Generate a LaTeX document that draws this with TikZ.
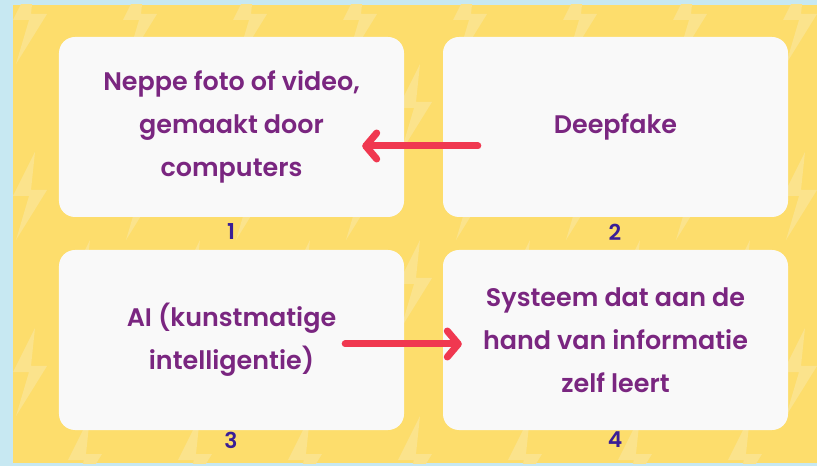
\documentclass[tikz,border=0pt]{standalone}
\usepackage{fontspec}
\setmainfont{Poppins}[BoldFont={Poppins SemiBold}]
\usetikzlibrary{arrows.meta}
\definecolor{bgblue}{RGB}{199,232,242}
\definecolor{boltyellow}{RGB}{253,221,108}
\definecolor{boltpale}{RGB}{251,227,140}
\definecolor{cardwhite}{RGB}{249,249,249}
\definecolor{textpurple}{RGB}{122,38,128}
\definecolor{numblue}{RGB}{58,30,150}
\definecolor{arrowred}{RGB}{240,56,80}
\tikzset{
  card/.style={fill=cardwhite, rounded corners=16bp, minimum width=345bp, minimum height=180bp,
    inner sep=0pt, align=center, text=textpurple, font=\fontsize{25.5}{43}\selectfont\bfseries},
  cardnum/.style={text=numblue, font=\fontsize{22}{22}\selectfont\bfseries},
  redarrow/.style={arrowred, line width=7bp, line cap=round,
    -{Straight Barb[length=11bp,width=26bp,round]}},
}

\begin{document}
\begin{tikzpicture}[x=1bp,y=-1bp]
\useasboundingbox (0,0) rectangle (817,466);
% background
\fill[bgblue] (0,0) rectangle (817,466);
\fill[boltyellow] (13,5) rectangle (817,463);
% lightning pattern
\begin{scope}
\clip (13,5) rectangle (817,463);
\foreach \r in {0,...,5}
  \foreach \c in {-1,...,8}
    \fill[boltpale, shift={({30+110*\c+55*mod(\r,2)},{20+88*\r})}]
      (5,-44) -- (-17,0) -- (-1,0) -- (-14,44) -- (17,-6) -- (1,-6) -- cycle;
\end{scope}
% cards
\node[card] (fake) at (231.5,127) {Neppe foto of video,\\gemaakt door\\computers};
\node[card] (deepfake) at (615.5,127) {Deepfake};
\node[card] (ai) at (231.5,340) {AI (kunstmatige\\intelligentie)};
\node[card] (system) at (615.5,340) {Systeem dat aan de\\hand van informatie\\zelf leert};
% numbers
\node[cardnum] (n1) at (231,232) {1};
\node[cardnum] (n2) at (615,232) {2};
\node[cardnum] (n3) at (231,440) {3};
\node[cardnum] (n4) at (615,440) {4};
% arrows
\coordinate (a1from) at ([xshift=35bp,yshift=-19bp]deepfake.west);
\coordinate (a1to) at ([xshift=-42bp,yshift=-19bp]fake.east);
\coordinate (a2from) at ([xshift=-59bp,yshift=-4bp]ai.east);
\coordinate (a2to) at ([xshift=19bp,yshift=-4bp]system.west);
\draw[redarrow] (a1from) -- (a1to);
\draw[redarrow] (a2from) -- (a2to);
\end{tikzpicture}
\end{document}
